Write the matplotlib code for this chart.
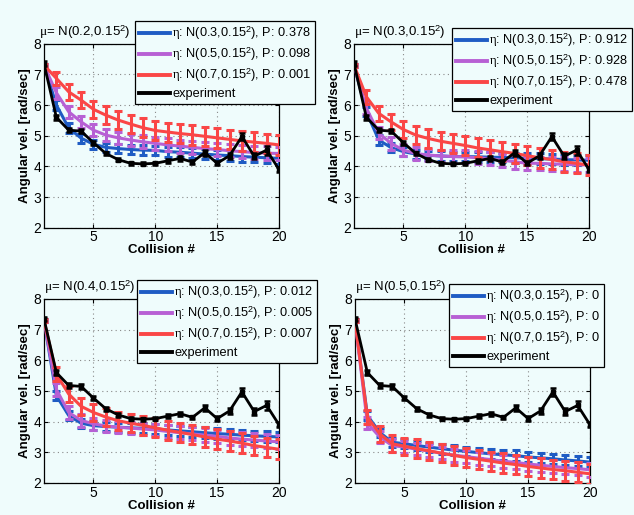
import numpy as np
import matplotlib
matplotlib.use("Agg")
import matplotlib.pyplot as plt

plt.rcParams['font.family'] = ['Liberation Sans', 'DejaVu Sans']
plt.rcParams['mathtext.fontset'] = 'custom'
plt.rcParams['mathtext.rm'] = 'Liberation Serif'
plt.rcParams['mathtext.it'] = 'Liberation Serif:italic'
plt.rcParams['mathtext.sf'] = 'Liberation Sans'

# collision index
collision = list(range(1, 21))

# experiment (same in every panel)
exp_mean = [7.35, 5.6, 5.18, 5.15, 4.77, 4.42, 4.22, 4.1, 4.08, 4.1,
            4.18, 4.26, 4.14, 4.45, 4.1, 4.35, 4.97, 4.33, 4.53, 3.9]
exp_err = [0.07, 0.08, 0.07, 0.07, 0.07, 0.06, 0.06, 0.05, 0.05, 0.05,
           0.06, 0.07, 0.06, 0.1, 0.07, 0.1, 0.12, 0.1, 0.15, 0.08]

mu_labels = ['0.2', '0.3', '0.4', '0.5']
eta_labels = ['0.3', '0.5', '0.7']
p_values = [['0.378', '0.098', '0.001'],
            ['0.912', '0.928', '0.478'],
            ['0.012', '0.005', '0.007'],
            ['0', '0', '0']]

# model means, one list per panel (mu) and eta
blue_mean = [
    [7.3, 6.0, 5.25, 4.92, 4.72, 4.62, 4.58, 4.55, 4.53, 4.52, 4.48, 4.46, 4.43, 4.4, 4.37, 4.35, 4.32, 4.3, 4.28, 4.26],
    [7.3, 5.78, 4.86, 4.61, 4.48, 4.4, 4.36, 4.34, 4.32, 4.32, 4.31, 4.3, 4.29, 4.28, 4.26, 4.25, 4.24, 4.22, 4.21, 4.2],
    [7.3, 4.85, 4.2, 3.95, 3.87, 3.84, 3.82, 3.8, 3.78, 3.76, 3.73, 3.7, 3.67, 3.64, 3.61, 3.59, 3.56, 3.54, 3.52, 3.5],
    [7.3, 4.2, 3.65, 3.33, 3.28, 3.22, 3.17, 3.12, 3.07, 3.03, 2.99, 2.95, 2.92, 2.89, 2.85, 2.82, 2.79, 2.75, 2.72, 2.68],
]
purple_mean = [
    [7.3, 6.4, 5.78, 5.45, 5.18, 5.02, 4.93, 4.86, 4.8, 4.75, 4.7, 4.66, 4.62, 4.58, 4.55, 4.51, 4.48, 4.45, 4.43, 4.42],
    [7.3, 5.9, 5.08, 4.75, 4.53, 4.42, 4.37, 4.34, 4.32, 4.31, 4.28, 4.25, 4.2, 4.15, 4.1, 4.1, 4.08, 4.07, 4.05, 4.05],
    [7.3, 5.05, 4.3, 4.04, 3.93, 3.86, 3.82, 3.79, 3.76, 3.73, 3.68, 3.64, 3.6, 3.56, 3.52, 3.47, 3.43, 3.4, 3.37, 3.34],
    [7.3, 3.95, 3.5, 3.22, 3.17, 3.1, 3.04, 2.97, 2.91, 2.86, 2.81, 2.76, 2.71, 2.67, 2.62, 2.58, 2.54, 2.5, 2.47, 2.43],
]
red_mean = [
    [7.3, 6.87, 6.43, 6.16, 5.86, 5.67, 5.51, 5.38, 5.26, 5.17, 5.12, 5.07, 5.03, 4.98, 4.93, 4.88, 4.83, 4.79, 4.75, 4.7],
    [7.3, 6.27, 5.73, 5.45, 5.2, 5.02, 4.91, 4.82, 4.75, 4.68, 4.6, 4.54, 4.48, 4.42, 4.35, 4.28, 4.22, 4.15, 4.1, 4.04],
    [7.3, 5.55, 4.9, 4.5, 4.3, 4.15, 4.03, 3.95, 3.88, 3.8, 3.72, 3.65, 3.58, 3.5, 3.43, 3.37, 3.3, 3.22, 3.16, 3.1],
    [7.3, 4.15, 3.6, 3.28, 3.2, 3.12, 3.05, 2.97, 2.9, 2.83, 2.77, 2.71, 2.65, 2.6, 2.54, 2.49, 2.44, 2.4, 2.35, 2.3],
]
blue_err = [0.05, 0.15, 0.15, 0.15, 0.15, 0.15, 0.15, 0.16, 0.16, 0.16, 0.16, 0.16, 0.16, 0.17, 0.17, 0.17, 0.17, 0.17, 0.17, 0.17]
purple_err = [0.05, 0.2, 0.2, 0.2, 0.2, 0.2, 0.2, 0.2, 0.21, 0.21, 0.21, 0.21, 0.21, 0.22, 0.22, 0.22, 0.22, 0.22, 0.22, 0.22]
red_err = [0.05, 0.22, 0.25, 0.27, 0.28, 0.3, 0.3, 0.3, 0.31, 0.31, 0.31, 0.31, 0.32, 0.32, 0.32, 0.32, 0.32, 0.32, 0.32, 0.32]

colors = ['#1f5cc4', '#b760d4', '#fa4646']
bg = '#effcfc'

# axes boxes (pixels: left, top) and legend anchor (pixels)
W, H = 634, 515
axes_px = [(44, 43.7), (354, 43.7), (44, 299), (355, 299)]
legend_px = [(135, 21), (452, 28), (137, 280), (449, 284)]
ax_w, ax_h = 235, 184

fig = plt.figure(figsize=(W / 100, H / 100), dpi=100, facecolor=bg)

for i in range(4):
    lx, ty = axes_px[i]
    ax = fig.add_axes([lx / W, 1 - (ty + ax_h) / H, ax_w / W, ax_h / H])
    ax.set_facecolor(bg)
    means = [blue_mean[i], purple_mean[i], red_mean[i]]
    errs = [blue_err, purple_err, red_err]
    handles = []
    for k in range(3):
        ax.errorbar(collision, means[k], yerr=errs[k], color=colors[k], lw=2.2,
                    elinewidth=2.2, capsize=2.6, capthick=2.2, zorder=2 + k)
        h, = ax.plot([], [], color=colors[k], lw=2.8,
                     label=r'$\mathrm{\eta}$: N(%s,0.15$^{\mathsf{2}}$), P: %s' % (eta_labels[k], p_values[i][k]))
        handles.append(h)
    ax.errorbar(collision, exp_mean, yerr=exp_err, color='black', lw=2.0, elinewidth=1.8,
                capsize=2.2, capthick=1.8, marker='s', ms=3.2, zorder=6)
    h, = ax.plot([], [], color='black', lw=2.8, label='experiment')
    handles.append(h)

    ax.set_xlim(1, 20)
    ax.set_ylim(2, 8)
    ax.set_xticks([5, 10, 15, 20])
    ax.set_yticks([2, 3, 4, 5, 6, 7, 8])
    ax.grid(True, linestyle=(0, (1, 3)), color='#888888', lw=0.8)
    ax.tick_params(direction='in', labelsize=10, length=3, top=True, right=True, pad=2)
    for s in ax.spines.values():
        s.set_linewidth(0.9)
    ax.set_xlabel('Collision #', fontweight='bold', fontsize=9.5, labelpad=0)
    ax.set_ylabel('Angular vel. [rad/sec]', fontweight='bold', fontsize=9.5, labelpad=2)
    ax.text(-0.02 if i == 0 else 0.0, 1.015, r'$\mathrm{\mu}$= N(%s,0.15$^{\mathsf{2}}$)' % mu_labels[i],
            transform=ax.transAxes, fontsize=9.5, ha='left', va='bottom')

    gx, gy = legend_px[i]
    leg = fig.legend(handles=handles, loc='upper left', bbox_to_anchor=(gx / W, 1 - gy / H),
                     bbox_transform=fig.transFigure, borderaxespad=0, fontsize=9.2,
                     fancybox=False, edgecolor='black', facecolor=bg, framealpha=1,
                     handlelength=2.4, handletextpad=0.2, labelspacing=0.28,
                     borderpad=0.3)
    leg.get_frame().set_linewidth(0.9)

fig.savefig('out.png', dpi=100, facecolor=bg)
